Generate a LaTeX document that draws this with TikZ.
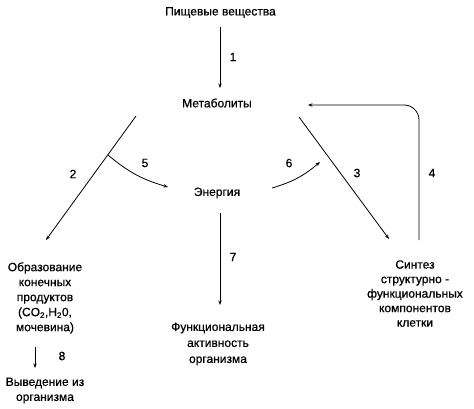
\documentclass[tikz,border=0pt]{standalone}
\usepackage{fontspec}
\setmainfont{Liberation Sans}[FakeBold=0.6]
\usetikzlibrary{arrows.meta}
\begin{document}
\begin{tikzpicture}[x=1pt,y=-1pt,
  lbl/.style={font=\fontsize{12}{15}\selectfont, align=center, inner sep=0pt},
  num/.style={font=\fontsize{12}{14}\selectfont, inner sep=0pt},
  conn/.style={line width=0.8pt, -{Stealth[length=4.5pt,width=3.4pt]}}]
\useasboundingbox[fill=white] (0,0) rectangle (474,409);
\node[lbl] (pv) at (220.5,12.5) {Пищевые вещества};
\node[lbl] (met) at (217,103) {Метаболиты};
\node[lbl] (en) at (217,193) {Энергия};
\node[lbl] (obr) at (45,298) {Образование\\конечных\\продуктов\\(CO\textsubscript{2},H\textsubscript{2}0,\\мочевина)};
\node[lbl, font=\fontsize{12}{14.5}\selectfont] (syn) at (415,293.5) {Синтез\\структурно -\\функциональных\\компонентов\\клетки};
\node[lbl, font=\fontsize{12}{16}\selectfont] (fa) at (218,344) {Функциональная\\активность\\организма};
\node[lbl] (vyv) at (45,390.5) {Выведение из\\организма};
% connector end points
\coordinate (a1s) at (220,27);
\coordinate (a1e) at (220,88);
\coordinate (a2s) at (136,116);
\coordinate (a2e) at (46,240);
\coordinate (br) at (108,155);
\coordinate (a5e) at (168,187);
\coordinate (a6s) at (272,188);
\coordinate (a6e) at (320,162);
\coordinate (a3s) at (299,117);
\coordinate (a3e) at (389,239);
\coordinate (a4s) at (419,240);
\coordinate (a4e) at (308,105);
\coordinate (a7s) at (220,213);
\coordinate (a7e) at (220,305);
\coordinate (a8s) at (35,347);
\coordinate (a8e) at (35,368);
\draw[conn] (a1s) -- (a1e);
\draw[conn] (a2s) -- (a2e);
\draw[conn] (br) to[bend right=12] (a5e);
\draw[conn] (a6s) to[bend right=12] (a6e);
\draw[conn] (a3s) -- (a3e);
\draw[conn, rounded corners=15pt] (a4s) |- (a4e);
\draw[conn] (a7s) -- (a7e);
\draw[conn] (a8s) -- (a8e);
\node[num] at (233,57) {1};
\node[num] at (73,174) {2};
\node[num] at (357,173) {3};
\node[num] at (432,173) {4};
\node[num] at (145,163) {5};
\node[num] at (289,163) {6};
\node[num] at (233,257) {7};
\node[num] at (62,356) {8};
\end{tikzpicture}
\end{document}
